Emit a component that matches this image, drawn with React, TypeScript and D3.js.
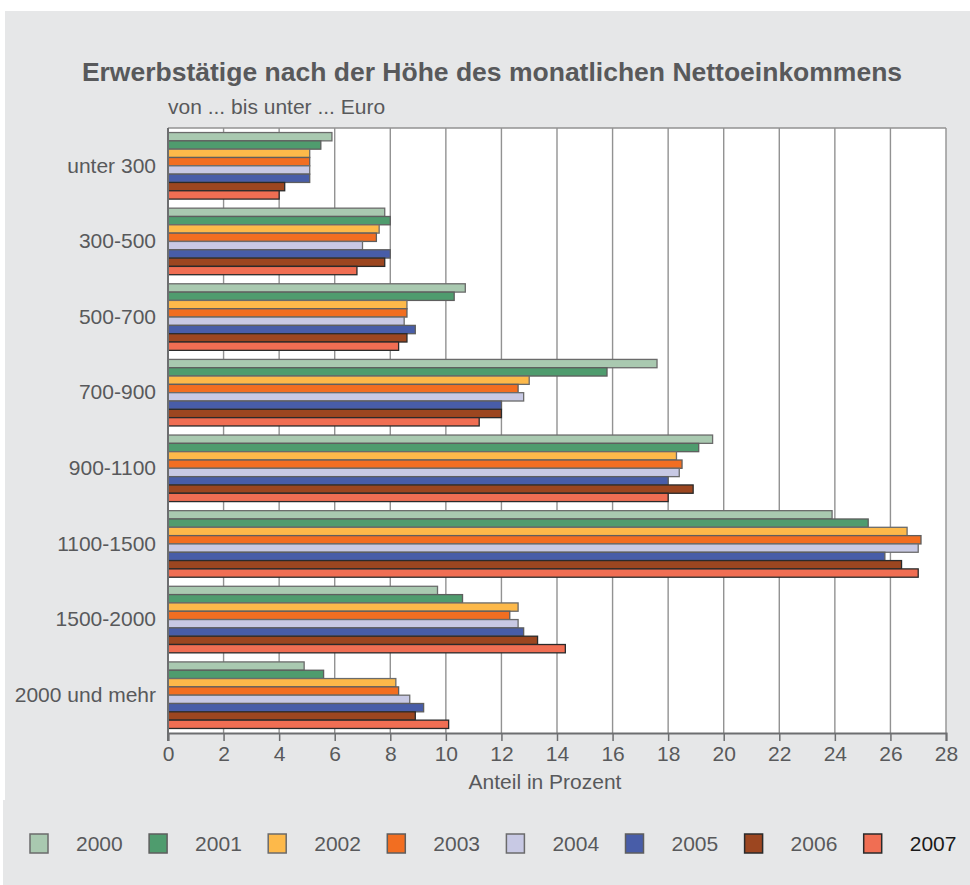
import { useEffect, useRef } from "react"
import * as d3 from "d3"

const categories = ["unter 300", "300-500", "500-700", "700-900", "900-1100", "1100-1500", "1500-2000", "2000 und mehr"]
const years = ["2000", "2001", "2002", "2003", "2004", "2005", "2006", "2007"]

// one array per year, in category order
const v2000 = [5.9, 7.8, 10.7, 17.6, 19.6, 23.9, 9.7, 4.9]
const v2001 = [5.5, 8.0, 10.3, 15.8, 19.1, 25.2, 10.6, 5.6]
const v2002 = [5.1, 7.6, 8.6, 13.0, 18.3, 26.6, 12.6, 8.2]
const v2003 = [5.1, 7.5, 8.6, 12.6, 18.5, 27.1, 12.3, 8.3]
const v2004 = [5.1, 7.0, 8.5, 12.8, 18.4, 27.0, 12.6, 8.7]
const v2005 = [5.1, 8.0, 8.9, 12.0, 18.0, 25.8, 12.8, 9.2]
const v2006 = [4.2, 7.8, 8.6, 12.0, 18.9, 26.4, 13.3, 8.9]
const v2007 = [4.0, 6.8, 8.3, 11.2, 18.0, 27.0, 14.3, 10.1]

const xTicks = [0, 2, 4, 6, 8, 10, 12, 14, 16, 18, 20, 22, 24, 26, 28]

const fills = ["#a9c9b0", "#4f9c6e", "#fdb94a", "#f26e21", "#c8c9e4", "#485da8", "#9c4620", "#f06e53"]
const strokes = ["#6b6b6b", "#5e5e5e", "#6b6b6b", "#5e5e5e", "#6b6b6b", "#5e5e5e", "#2a2a2a", "#2a2a2a"]

export default function App() {
  const svgRef = useRef<SVGSVGElement>(null)

  useEffect(() => {
    if (!svgRef.current) return
    const series = [v2000, v2001, v2002, v2003, v2004, v2005, v2006, v2007]
    const rows = categories.map((c, i) => ({ cat: c, vals: series.map((s) => s[i]) }))

    const W = 970
    const H = 885
    const margin = { top: 128, left: 168, right: 24, bottom: 152 }
    const pw = W - margin.left - margin.right
    const ph = H - margin.top - margin.bottom
    const font = "'Liberation Sans', Arial, sans-serif"

    const root = d3.select(svgRef.current)
    root.selectAll("*").remove()

    // backgrounds
    root.append("rect").attr("x", 5).attr("y", 11).attr("width", W - 5).attr("height", 789).attr("fill", "#e6e7e8")
    root.append("rect").attr("x", 3).attr("y", 800).attr("width", W - 3).attr("height", 85).attr("fill", "#e6e7e8")

    root
      .append("text")
      .attr("x", 492)
      .attr("y", 81)
      .attr("text-anchor", "middle")
      .attr("font-family", font)
      .attr("font-weight", "bold")
      .attr("font-size", 26.5)
      .attr("fill", "#58595b")
      .text("Erwerbstätige nach der Höhe des monatlichen Nettoeinkommens")

    root
      .append("text")
      .attr("x", 168)
      .attr("y", 114)
      .attr("font-family", font)
      .attr("font-size", 21)
      .attr("fill", "#58595b")
      .text("von ... bis unter ... Euro")

    const g = root.append("g").attr("transform", `translate(${margin.left},${margin.top})`)

    const x = d3.scaleLinear().domain([0, 28]).range([0, pw])
    const y0 = d3.scaleBand().domain(categories).range([0, ph]).paddingInner(0.12).paddingOuter(0.06)
    const y1 = d3.scaleBand().domain(years).range([0, y0.bandwidth()])

    g.append("rect").attr("width", pw).attr("height", ph).attr("fill", "#ffffff")

    // grid
    g.selectAll(".grid")
      .data(xTicks.slice(1))
      .enter()
      .append("line")
      .attr("x1", (d) => x(d))
      .attr("x2", (d) => x(d))
      .attr("y1", 0)
      .attr("y2", ph)
      .attr("stroke", "#929292")
      .attr("stroke-width", 1.4)

    g.append("line").attr("x1", 0).attr("x2", pw).attr("y1", 0).attr("y2", 0).attr("stroke", "#929292").attr("stroke-width", 1.4)

    // bars
    const groups = g
      .selectAll(".grp")
      .data(rows)
      .enter()
      .append("g")
      .attr("transform", (d) => `translate(0,${y0(d.cat)})`)

    groups
      .selectAll("rect")
      .data((d) => d.vals.map((v, i) => ({ year: years[i], v, i })))
      .enter()
      .append("rect")
      .attr("x", 0)
      .attr("y", (d) => y1(d.year) || 0)
      .attr("width", (d) => x(d.v))
      .attr("height", y1.bandwidth())
      .attr("fill", (d) => fills[d.i])
      .attr("stroke", (d) => strokes[d.i])
      .attr("stroke-width", 1.3)

    // axes
    const xAxis = g
      .append("g")
      .attr("transform", `translate(0,${ph})`)
      .call(d3.axisBottom(x).tickValues(xTicks).tickSize(8).tickPadding(5).tickFormat(d3.format("d")))
    xAxis.select(".domain").attr("stroke", "#6d6e70").attr("stroke-width", 2)
    xAxis.selectAll(".tick line").attr("stroke", "#6d6e70").attr("stroke-width", 1.5)
    xAxis.selectAll("text").attr("font-family", font).attr("font-size", 21).attr("fill", "#58595b")

    const yAxis = g.append("g").call(d3.axisLeft(y0).tickSize(0).tickPadding(12))
    yAxis.select(".domain").remove()
    yAxis.selectAll("text").attr("font-family", font).attr("font-size", 21).attr("fill", "#58595b")

    g.append("line").attr("x1", 0).attr("x2", 0).attr("y1", 0).attr("y2", ph + 8).attr("stroke", "#6d6e70").attr("stroke-width", 2)

    g.append("text")
      .attr("x", 377)
      .attr("y", ph + 56)
      .attr("text-anchor", "middle")
      .attr("font-family", font)
      .attr("font-size", 21)
      .attr("fill", "#58595b")
      .text("Anteil in Prozent")

    // legend
    const leg = root
      .selectAll(".leg")
      .data(years)
      .enter()
      .append("g")
      .attr("transform", (_d, i) => `translate(${30 + i * 119.1},834)`)
    leg
      .append("rect")
      .attr("width", 18)
      .attr("height", 19)
      .attr("fill", (_d, i) => fills[i])
      .attr("stroke", (_d, i) => strokes[i])
      .attr("stroke-width", 1.5)
    leg
      .append("text")
      .attr("x", 46)
      .attr("y", 17)
      .attr("font-family", font)
      .attr("font-size", 21)
      .attr("fill", (_d, i) => (i === 7 ? "#1a1a1a" : "#58595b"))
      .text((d) => d)
  }, [])

  return <svg ref={svgRef} width={970} height={885} style={{ position: "absolute", left: 0, top: 0 }} />
}
